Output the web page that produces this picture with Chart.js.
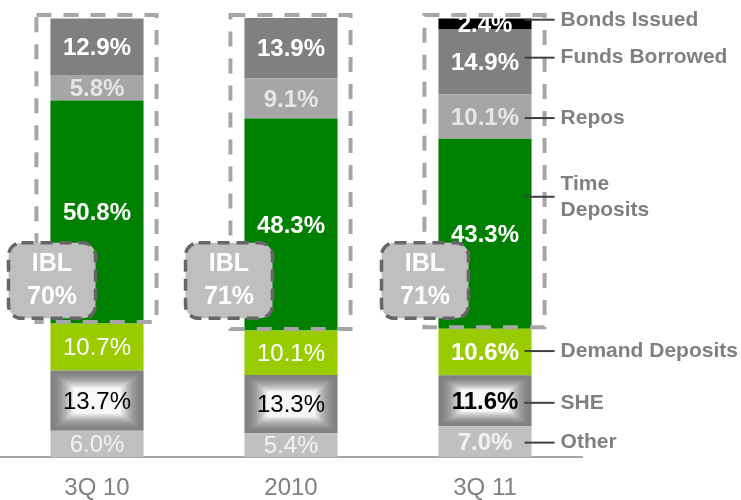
<!DOCTYPE html>
<html>
<head>
<meta charset="utf-8">
<script src="https://cdn.jsdelivr.net/npm/chart.js@4.4.1/dist/chart.umd.min.js"></script>
<style>
html,body{margin:0;padding:0;background:#fff;}
#wrap{width:741px;height:500px;}
</style>
</head>
<body>
<div id="wrap"><canvas id="c" width="741" height="500"></canvas></div>
<script>
/* ===== DATA ===== */
const categories = ['3Q 10', '2010', '3Q 11'];
const other = [6.0, 5.4, 7.0];
const she = [13.7, 13.3, 11.6];
const demandDeposits = [10.7, 10.1, 10.6];
const timeDeposits = [50.8, 48.3, 43.3];
const repos = [5.8, 9.1, 10.1];
const fundsBorrowed = [12.9, 13.9, 14.9];
const bondsIssued = [0, 0, 2.4];
const iblShare = ['70%', '71%', '71%'];
const seriesNames = ['Other', 'SHE', 'Demand Deposits', 'Time Deposits', 'Repos', 'Funds Borrowed', 'Bonds Issued'];

/* ===== STYLE ===== */
const FONT = '"Liberation Sans", Arial, sans-serif';
const fills = ['#c0c0c0', '#808080', '#99cc00', '#008000', '#a6a6a6', '#808080', '#000000'];
const labelColors = ['#f2f2f2', '#000000', '#ffffff', '#ffffff', '#e6e6e6', '#ffffff', '#ffffff'];
const seriesValues = [other, she, demandDeposits, timeDeposits, repos, fundsBorrowed, bondsIssued];

const datasets = seriesValues.map((vals, i) => ({
  label: seriesNames[i],
  data: vals,
  backgroundColor: fills[i],
  borderWidth: 0,
  barPercentage: 0.48,
  categoryPercentage: 1
}));

/* SHE boxes: rectangular gradient grey -> white */
const sheShade = {
  id: 'sheShade',
  afterDatasetDraw(chart, args) {
    if (args.index !== 1) return;
    const ctx = chart.ctx;
    const steps = 9;
    args.meta.data.forEach(el => {
      const l = el.x - el.width / 2, r = el.x + el.width / 2;
      const t = el.y, b = el.base;
      const dx = (r - l) * 0.24 / steps, dy = (b - t) * 0.28 / steps;
      for (let k = 1; k <= steps; k++) {
        const c = Math.round(128 + (248 - 128) * Math.pow(k / steps, 1.7));
        ctx.fillStyle = 'rgb(' + c + ',' + c + ',' + c + ')';
        ctx.fillRect(l + k * dx, t + k * dy, (r - l) - 2 * k * dx, (b - t) - 2 * k * dy);
      }
    });
  }
};

/* value labels inside segments */
const segLabels = {
  id: 'segLabels',
  afterDatasetsDraw(chart) {
    const ctx = chart.ctx;
    ctx.save();
    ctx.textAlign = 'center';
    ctx.textBaseline = 'middle';
    chart.data.datasets.forEach((ds, i) => {
      chart.getDatasetMeta(i).data.forEach((el, j) => {
        const v = ds.data[j];
        if (!v) return;
        const plain = i <= 2 && j < 2;
        ctx.font = (plain ? '' : 'bold ') + '24px ' + FONT;
        ctx.fillStyle = labelColors[i];
        ctx.fillText(v.toFixed(1) + '%', el.x, (el.y + el.base) / 2 + 1.5);
      });
    });
    ctx.restore();
  }
};

/* IBL dashed frames and badges */
const iblFrames = {
  id: 'iblFrames',
  afterDraw(chart, args, opts) {
    const ctx = chart.ctx;
    const ys = chart.scales.y;
    const td = chart.getDatasetMeta(3).data;
    ctx.save();
    td.forEach((el, j) => {
      const l = el.x - el.width / 2 - 14, r = el.x + el.width / 2 + 13;
      const t = chart.chartArea.top - 3, b = el.base - 1.5;
      ctx.setLineDash([15, 12]);
      ctx.lineWidth = 4;
      ctx.strokeStyle = '#a6a6a6';
      ctx.strokeRect(l, t, r - l, b - t);
    });
    td.forEach((el, j) => {
      const cx = el.x + opts.shift[j];
      const top = ys.getPixelForValue(48.8), bot = ys.getPixelForValue(31.6);
      const w = 87;
      ctx.setLineDash([12, 7]);
      ctx.lineWidth = 3.5;
      ctx.strokeStyle = '#666666';
      ctx.fillStyle = '#bfbfbf';
      ctx.beginPath();
      ctx.roundRect(cx - w / 2, top, w, bot - top, 13);
      ctx.fill();
      ctx.stroke();
      ctx.setLineDash([]);
      ctx.fillStyle = '#ffffff';
      ctx.font = 'bold 25px ' + FONT;
      ctx.textAlign = 'center';
      ctx.textBaseline = 'middle';
      const my = (top + bot) / 2;
      ctx.fillText('IBL', cx, my - 16);
      ctx.fillText(iblShare[j], cx, my + 17);
    });
    ctx.restore();
  }
};

/* right-hand series names with leader lines */
const sideNames = {
  id: 'sideNames',
  afterDraw(chart, args, opts) {
    const ctx = chart.ctx;
    ctx.save();
    ctx.font = 'bold 21px ' + FONT;
    ctx.textAlign = 'left';
    ctx.textBaseline = 'middle';
    chart.data.datasets.forEach((ds, i) => {
      const el = chart.getDatasetMeta(i).data[2];
      const y = (el.y + el.base) / 2 + opts.nudge[i];
      const x0 = el.x + el.width / 2 - 7;
      ctx.strokeStyle = '#404040';
      ctx.lineWidth = 2;
      ctx.beginPath();
      ctx.moveTo(x0, y);
      ctx.lineTo(x0 + 30, y);
      ctx.stroke();
      ctx.fillStyle = '#808080';
      const words = ds.label === 'Time Deposits' ? ['Time', 'Deposits'] : [ds.label];
      if (words.length === 2) {
        ctx.fillText(words[0], x0 + 36, y - 13);
        ctx.fillText(words[1], x0 + 36, y + 13);
      } else {
        ctx.fillText(words[0], x0 + 36, y);
      }
    });
    ctx.restore();
  }
};

new Chart(document.getElementById('c'), {
  type: 'bar',
  data: { labels: categories, datasets: datasets },
  options: {
    responsive: false,
    animation: false,
    devicePixelRatio: 1,
    layout: { padding: { top: 18, right: 159, bottom: 0, left: 0 } },
    plugins: {
      legend: { display: false },
      tooltip: { enabled: false },
      iblFrames: { shift: [-45, -62, -60] },
      sideNames: { nudge: [1, 2, -1, -37, 1.5, -4, -4] }
    },
    scales: {
      x: {
        stacked: true,
        grid: { display: false, drawTicks: false },
        border: { display: true, color: '#a6a6a6', width: 2 },
        ticks: { color: '#808080', font: { family: FONT, size: 24 }, padding: 17 },
        afterFit(scale) { scale.height = 43; }
      },
      y: {
        stacked: true,
        display: false,
        min: 0,
        max: 100
      }
    }
  },
  plugins: [sheShade, segLabels, iblFrames, sideNames]
});
</script>
</body>
</html>
